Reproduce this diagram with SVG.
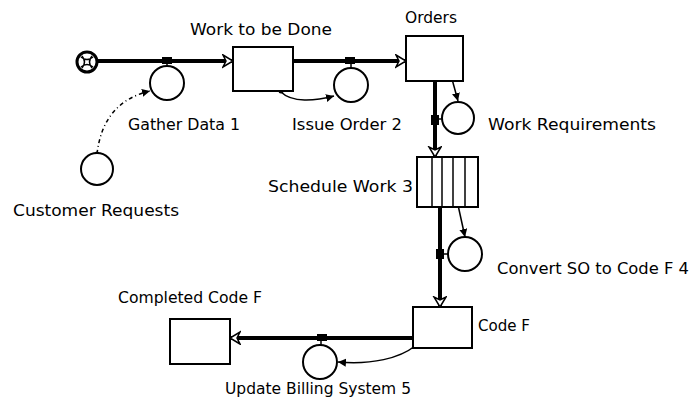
<svg xmlns="http://www.w3.org/2000/svg" width="697" height="409" viewBox="0 0 697 409">
<style>
  .lbl { font-family: "DejaVu Sans", "Liberation Sans", Arial, sans-serif; font-size: 16px; fill: #000; }
  .stock { fill: #fff; stroke: #000; stroke-width: 2; }
  .conv { fill: #fff; stroke: #000; stroke-width: 2; }
  .pipe { fill: none; stroke: #000; stroke-width: 4; }
  .valve { fill: #000; }
  .link { fill: none; stroke: #000; stroke-width: 1.5; }
  .dash { fill: none; stroke: #000; stroke-width: 1.5; stroke-dasharray: 4 3 1 3; }
  .dot { fill: #000; }
</style>
<defs>
  <marker id="flowhead" markerUnits="userSpaceOnUse" markerWidth="14" markerHeight="16" refX="11" refY="7" orient="auto">
    <path d="M1,1 L11,7 L1,13 L4,7 z" fill="#fff" stroke="#000" stroke-width="1.5"/>
  </marker>
  <marker id="linkhead" markerUnits="userSpaceOnUse" markerWidth="10" markerHeight="10" refX="8" refY="4" orient="auto">
    <path d="M0,0 L8,4 L0,8 z" fill="#000"/>
  </marker>
</defs>
<rect width="697" height="409" fill="#fff"/>

<g id="flows">
  <path class="pipe" d="M98,61 L233,61" marker-end="url(#flowhead)"/>
  <path class="pipe" d="M293,61 L406,61" marker-end="url(#flowhead)"/>
  <path class="pipe" d="M435,82 L435,157" marker-end="url(#flowhead)"/>
  <path class="pipe" d="M440,207 L440,307" marker-end="url(#flowhead)"/>
  <path class="pipe" d="M413,338 L230,338" marker-end="url(#flowhead)"/>
</g>

<g id="connectors">
  <path class="dash" d="M97,154 Q103,102 150,91" marker-end="url(#linkhead)"/>
  <circle class="dot" cx="97" cy="154" r="2.5"/>
  <path class="link" d="M281,92 C292,103 315,101 334,96" marker-end="url(#linkhead)"/>
  <circle class="dot" cx="281" cy="91" r="2.5"/>
  <path class="link" d="M452,79 L458,101" marker-end="url(#linkhead)"/>
  <circle class="dot" cx="452" cy="79" r="2.5"/>
  <path class="link" d="M458,205 L465,237" marker-end="url(#linkhead)"/>
  <circle class="dot" cx="458" cy="205" r="2.5"/>
  <path class="link" d="M415,346 C400,358 372,365 338,362" marker-end="url(#linkhead)"/>
  <circle class="dot" cx="415" cy="346" r="2.5"/>
</g>

<g id="cloud">
  <circle cx="87" cy="62" r="10" fill="#fff" stroke="#000" stroke-width="3"/>
  <path d="M81,57 Q87,62 93,57 M81,67 Q87,62 93,67 M82,56 Q87,62 82,68 M92,56 Q87,62 92,68" fill="none" stroke="#000" stroke-width="1.5"/>
</g>

<g id="gather-data-1">
  <rect class="valve" x="162" y="57" width="10" height="7"/>
  <line x1="167" y1="62" x2="167" y2="66" stroke="#000" stroke-width="1.5"/>
  <circle class="conv" cx="167" cy="83" r="17"/>
  <text class="lbl" x="128" y="130" textLength="112" lengthAdjust="spacingAndGlyphs">Gather Data 1</text>
</g>

<g id="work-to-be-done">
  <rect class="stock" x="233" y="47" width="60" height="44"/>
  <text class="lbl" x="190" y="35" textLength="142" lengthAdjust="spacingAndGlyphs">Work to be Done</text>
</g>

<g id="issue-order-2">
  <rect class="valve" x="345" y="57" width="10" height="7"/>
  <line x1="351" y1="62" x2="351" y2="68" stroke="#000" stroke-width="1.5"/>
  <circle class="conv" cx="351" cy="85" r="17"/>
  <text class="lbl" x="292" y="130" textLength="110" lengthAdjust="spacingAndGlyphs">Issue Order 2</text>
</g>

<g id="orders">
  <rect class="stock" x="406" y="36" width="57" height="45"/>
  <text class="lbl" x="405" y="23" textLength="52" lengthAdjust="spacingAndGlyphs">Orders</text>
</g>

<g id="work-requirements">
  <rect class="valve" x="431" y="115" width="8" height="10"/>
  <line x1="437" y1="119" x2="442" y2="119" stroke="#000" stroke-width="1.5"/>
  <circle class="conv" cx="458" cy="118" r="16"/>
  <text class="lbl" x="488" y="130" textLength="168" lengthAdjust="spacingAndGlyphs">Work Requirements</text>
</g>

<g id="customer-requests">
  <circle class="conv" cx="97" cy="169" r="16"/>
  <text class="lbl" x="13" y="216" textLength="166" lengthAdjust="spacingAndGlyphs">Customer Requests</text>
</g>

<g id="schedule-work-3">
  <rect class="stock" x="417" y="157" width="61" height="50"/>
  <line x1="432" y1="157" x2="432" y2="207" stroke="#000" stroke-width="1.5"/>
  <line x1="442" y1="157" x2="442" y2="207" stroke="#000" stroke-width="1.5"/>
  <line x1="453" y1="157" x2="453" y2="207" stroke="#000" stroke-width="1.5"/>
  <line x1="465" y1="157" x2="465" y2="207" stroke="#000" stroke-width="1.5"/>
  <text class="lbl" x="268" y="192" textLength="145" lengthAdjust="spacingAndGlyphs">Schedule Work 3</text>
</g>

<g id="convert-so-to-code-f-4">
  <rect class="valve" x="436" y="249" width="8" height="10"/>
  <line x1="442" y1="254" x2="448" y2="254" stroke="#000" stroke-width="1.5"/>
  <circle class="conv" cx="465" cy="254" r="17"/>
  <text class="lbl" x="497" y="274" textLength="192" lengthAdjust="spacingAndGlyphs">Convert SO to Code F 4</text>
</g>

<g id="code-f">
  <rect class="stock" x="413" y="307" width="59" height="41"/>
  <text class="lbl" x="478" y="331" textLength="52" lengthAdjust="spacingAndGlyphs">Code F</text>
</g>

<g id="completed-code-f">
  <rect class="stock" x="170" y="319" width="60" height="45"/>
  <text class="lbl" x="118" y="303" textLength="144" lengthAdjust="spacingAndGlyphs">Completed Code F</text>
</g>

<g id="update-billing-system-5">
  <rect class="valve" x="317" y="334" width="10" height="7"/>
  <line x1="321" y1="339" x2="321" y2="345" stroke="#000" stroke-width="1.5"/>
  <circle class="conv" cx="320" cy="362" r="17"/>
  <text class="lbl" x="225" y="394" textLength="186" lengthAdjust="spacingAndGlyphs">Update Billing System 5</text>
</g>
</svg>
